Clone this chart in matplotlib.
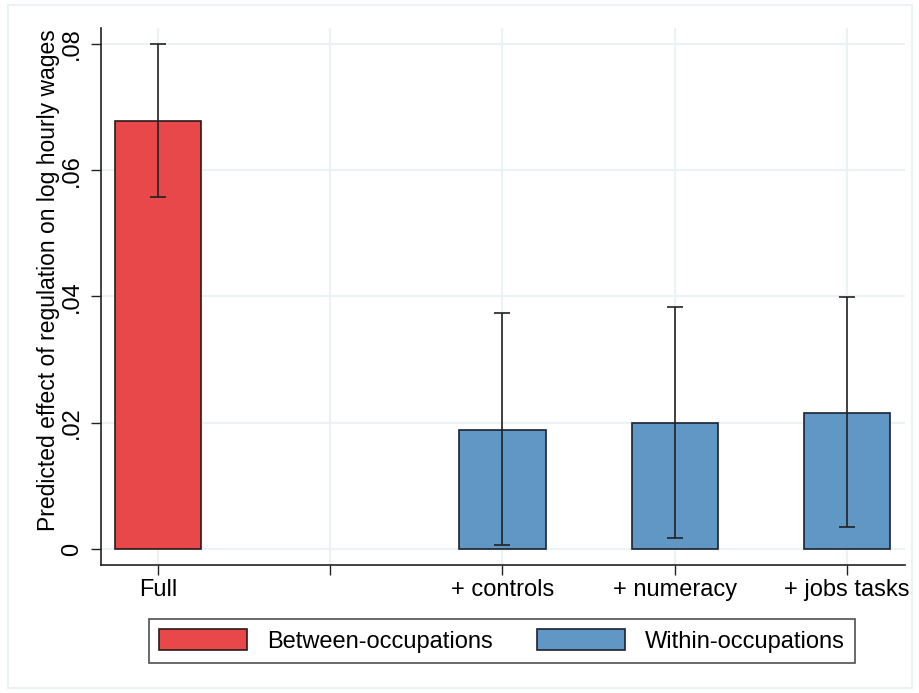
import matplotlib
matplotlib.use("Agg")
import matplotlib.pyplot as plt
from matplotlib.patches import Patch, Rectangle

plt.rcParams['font.family'] = ['Liberation Sans', 'DejaVu Sans']

# data
labels = ["Full", "", "+ controls", "+ numeracy", "+ jobs tasks"]
between_vals = [0.0678]
between_lo = [0.0558]
between_hi = [0.0800]
within_vals = [0.0189, 0.0200, 0.0216]
within_lo = [0.0006, 0.0017, 0.0035]
within_hi = [0.0374, 0.0384, 0.0399]

RED = "#E8484A"
BLUE = "#6097C5"
GRID = "#EAF2F3"
FS = 17

fig = plt.figure(figsize=(9.19, 6.93), dpi=100)
ax = fig.add_axes([101/919, 1 - 565/693, (905-101)/919, (565-28)/693])

xb = [1]
xw = [3, 4, 5]
ax.bar(xb, between_vals, width=0.5, color=RED, edgecolor="#2a1a1a", linewidth=1.2, zorder=2)
ax.bar(xw, within_vals, width=0.5, color=BLUE, edgecolor="#1a2330", linewidth=1.2, zorder=2)

def errs(v, lo, hi):
    return [[a - b for a, b in zip(v, lo)], [c - a for a, c in zip(v, hi)]]

ax.errorbar(xb, between_vals, yerr=errs(between_vals, between_lo, between_hi),
            fmt="none", ecolor="#222222", elinewidth=1.2, capsize=6, capthick=1.2, zorder=3)
ax.errorbar(xw, within_vals, yerr=errs(within_vals, within_lo, within_hi),
            fmt="none", ecolor="#222222", elinewidth=1.2, capsize=6, capthick=1.2, zorder=3)

ax.set_xlim(0.669, 5.337)
ax.set_ylim(-0.00253, 0.0825)
ax.set_xticks([1, 2, 3, 4, 5])
ax.set_xticklabels(labels, fontsize=FS)
ax.set_yticks([0, 0.02, 0.04, 0.06, 0.08])
ax.set_yticklabels(["0", ".02", ".04", ".06", ".08"], fontsize=FS, rotation=90, va="center")
ax.tick_params(axis="both", direction="out", length=7, width=1, color="#222222")
ax.tick_params(axis="x", pad=3)
ax.tick_params(axis="y", pad=6)

ax.grid(True, color=GRID, linewidth=1.5, zorder=0)
ax.set_axisbelow(True)
for s in ["top", "right"]:
    ax.spines[s].set_visible(False)
for s in ["left", "bottom"]:
    ax.spines[s].set_color("#222222")
    ax.spines[s].set_linewidth(1.2)

ax.set_ylabel("Predicted effect of regulation on log hourly wages", fontsize=16.5)
ax.yaxis.set_label_coords(-(101-60)/804, (565-280)/537)

handles = [Patch(facecolor=RED, edgecolor="#2a1a1a", linewidth=1.2),
           Patch(facecolor=BLUE, edgecolor="#1a2330", linewidth=1.2)]
leg = fig.legend(handles, ["Between-occupations", "Within-occupations"],
                 loc="center", bbox_to_anchor=(502/919, 1 - 641/693), ncol=2,
                 fontsize=FS, frameon=True, fancybox=False, edgecolor="#222222",
                 handlelength=3.7, handleheight=1.0, columnspacing=1.9,
                 handletextpad=0.85, borderpad=0.45)
leg.get_frame().set_linewidth(1.2)

# outer graph region border
fig.patches.append(Rectangle((8/919, 5/693), (912-8)/919, (688-5)/693,
                             transform=fig.transFigure, fill=False,
                             edgecolor=GRID, linewidth=1.5))

fig.savefig("out.png", dpi=100, facecolor="white")
